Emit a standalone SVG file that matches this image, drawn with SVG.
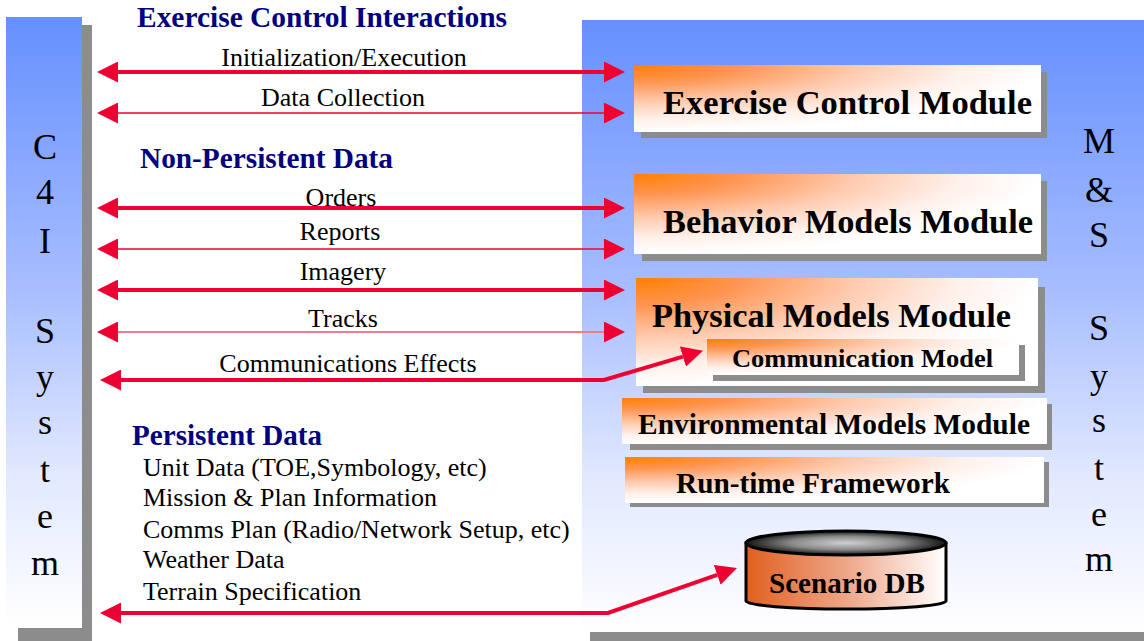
<svg xmlns="http://www.w3.org/2000/svg" width="1144" height="641" viewBox="0 0 1144 641">
<defs>
<linearGradient id="panel" x1="0" y1="0" x2="0" y2="1">
<stop offset="0" stop-color="#6690FF"/>
<stop offset="0.45" stop-color="#A8BEFF"/>
<stop offset="0.75" stop-color="#E2E9FF"/>
<stop offset="1" stop-color="#FFFFFF"/>
</linearGradient>
<radialGradient id="orange" cx="0" cy="0" r="1" fx="0" fy="0">
<stop offset="0" stop-color="#FF8000"/>
<stop offset="0.25" stop-color="#FF9450"/>
<stop offset="0.55" stop-color="#FFCBB0"/>
<stop offset="0.8" stop-color="#FFF0EA"/>
<stop offset="1" stop-color="#FFFFFF"/>
</radialGradient>
<linearGradient id="dbBody" x1="0" y1="0" x2="1" y2="0">
<stop offset="0" stop-color="#E06020"/>
<stop offset="0.5" stop-color="#EEA688"/>
<stop offset="1" stop-color="#FFFFFF"/>
</linearGradient>
<radialGradient id="dbTop" cx="0.5" cy="0.5" r="0.5">
<stop offset="0" stop-color="#D0D0D0"/>
<stop offset="0.55" stop-color="#8A8A8A"/>
<stop offset="1" stop-color="#151515"/>
</radialGradient>
<marker id="ah" markerUnits="userSpaceOnUse" markerWidth="21" markerHeight="21" viewBox="0 0 21 21" refX="0" refY="10.5" orient="auto-start-reverse">
<path d="M0,0 L21,10.5 L0,21 z" fill="#EE0033"/>
</marker>
<style>
text{font-family:"Liberation Serif","Times New Roman",Times,serif}
.lbl{font-size:26px;fill:#000}
.ttl{font-size:29px;font-weight:bold;fill:#000080}
.mod{font-weight:bold;fill:#000}
.side{font-size:36px;fill:#000;text-anchor:middle}
.shadow{fill:#8C8C8C}
.box{fill:url(#orange)}
.thick{stroke:#EE0033;stroke-width:4;fill:none;marker-start:url(#ah);marker-end:url(#ah)}
.thin{stroke:#EE0033;stroke-width:1.5;fill:none;marker-start:url(#ah);marker-end:url(#ah)}
.pale{stroke:#F07A8A;stroke-width:2;fill:none;marker-start:url(#ah);marker-end:url(#ah)}
</style>
</defs>
<rect width="1144" height="641" fill="#FFFFFF"/>

<g id="c4i-system">
<rect class="shadow" x="18" y="25" width="74" height="616"/>
<rect x="6" y="17" width="76" height="611" fill="url(#panel)"/>
<text class="side" x="45" y="159">C</text>
<text class="side" x="45" y="204">4</text>
<text class="side" x="45" y="253">I</text>
<text class="side" x="45" y="343">S</text>
<text class="side" x="45" y="389">y</text>
<text class="side" x="45" y="434">s</text>
<text class="side" x="45" y="482">t</text>
<text class="side" x="45" y="528">e</text>
<text class="side" x="45" y="575">m</text>
</g>

<g id="ms-system">
<rect class="shadow" x="590" y="630" width="554" height="11"/>
<rect x="582" y="20" width="562" height="612" fill="url(#panel)"/>
<text class="side" x="1099" y="153">M</text>
<text class="side" x="1099" y="202">&amp;</text>
<text class="side" x="1099" y="247">S</text>
<text class="side" x="1099" y="340">S</text>
<text class="side" x="1099" y="388">y</text>
<text class="side" x="1099" y="432">s</text>
<text class="side" x="1099" y="480">t</text>
<text class="side" x="1099" y="526">e</text>
<text class="side" x="1099" y="571">m</text>
</g>

<g id="section-titles">
<text class="ttl" x="137" y="27" textLength="370" lengthAdjust="spacingAndGlyphs">Exercise Control Interactions</text>
<text class="ttl" x="140" y="168" textLength="253" lengthAdjust="spacingAndGlyphs">Non-Persistent Data</text>
<text class="ttl" x="132" y="445" textLength="190" lengthAdjust="spacingAndGlyphs">Persistent Data</text>
</g>

<g id="exercise-control-module">
<rect class="shadow" x="641" y="72" width="406" height="66"/>
<rect class="box" x="634" y="65" width="407" height="67"/>
<text class="mod" x="663" y="114" font-size="34" textLength="369" lengthAdjust="spacingAndGlyphs">Exercise Control Module</text>
</g>

<g id="behavior-models-module">
<rect class="shadow" x="642" y="181" width="405" height="80"/>
<rect class="box" x="634" y="174" width="407" height="80"/>
<text class="mod" x="663" y="233" font-size="34" textLength="370" lengthAdjust="spacingAndGlyphs">Behavior Models Module</text>
</g>

<g id="physical-models-module">
<rect class="shadow" x="643" y="287" width="402" height="106"/>
<rect class="box" x="636" y="278" width="402" height="108"/>
<text class="mod" x="652" y="327" font-size="34" textLength="359" lengthAdjust="spacingAndGlyphs">Physical Models Module</text>
</g>

<g id="communication-model">
<rect class="shadow" x="713" y="345" width="312" height="36"/>
<rect class="box" x="707" y="339" width="312" height="36"/>
<text class="mod" x="732" y="367" font-size="26" textLength="261" lengthAdjust="spacingAndGlyphs">Communication Model</text>
</g>

<g id="environmental-models-module">
<rect class="shadow" x="630" y="404" width="422" height="46"/>
<rect class="box" x="622" y="398" width="425" height="46"/>
<text class="mod" x="638" y="434" font-size="29" textLength="392" lengthAdjust="spacingAndGlyphs">Environmental Models Module</text>
</g>

<g id="run-time-framework">
<rect class="shadow" x="630" y="462" width="419" height="45"/>
<rect class="box" x="625" y="457" width="419" height="46"/>
<text class="mod" x="676" y="493" font-size="29" textLength="274" lengthAdjust="spacingAndGlyphs">Run-time Framework</text>
</g>

<g id="scenario-db">
<path d="M746,543 V601 A100,8 0 0 0 946,601 V543 Z" fill="url(#dbBody)" stroke="#000" stroke-width="3"/>
<ellipse cx="846" cy="543" rx="100" ry="12" fill="url(#dbTop)" stroke="#000" stroke-width="3"/>
<text class="mod" x="769" y="593" font-size="29" textLength="156" lengthAdjust="spacingAndGlyphs">Scenario DB</text>
</g>

<g id="connectors">
<line class="thick" x1="118" y1="72" x2="604" y2="72"/>
<line class="thin" x1="118" y1="113" x2="604" y2="113"/>
<line class="thick" x1="118" y1="208" x2="604" y2="208"/>
<line class="thin" x1="118" y1="249" x2="604" y2="249"/>
<line class="thick" x1="118" y1="290" x2="604" y2="290"/>
<line class="pale" x1="118" y1="332" x2="604" y2="332"/>
<polyline class="thick" points="121,380 604,380 682.9,356.6"/>
<polyline class="thick" points="121,613 608,613 717.2,574.9"/>
</g>

<g id="connector-labels">
<text class="lbl" x="344" y="66" text-anchor="middle">Initialization/Execution</text>
<text class="lbl" x="343" y="106" text-anchor="middle">Data Collection</text>
<text class="lbl" x="341" y="206" text-anchor="middle">Orders</text>
<text class="lbl" x="340" y="240" text-anchor="middle">Reports</text>
<text class="lbl" x="343" y="280" text-anchor="middle">Imagery</text>
<text class="lbl" x="343" y="327" text-anchor="middle">Tracks</text>
<text class="lbl" x="348" y="372" text-anchor="middle">Communications Effects</text>
</g>

<g id="persistent-data-list">
<text class="lbl" x="143" y="476">Unit Data (TOE,Symbology, etc)</text>
<text class="lbl" x="143" y="506">Mission &amp; Plan Information</text>
<text class="lbl" x="143" y="538">Comms Plan (Radio/Network Setup, etc)</text>
<text class="lbl" x="143" y="568">Weather Data</text>
<text class="lbl" x="143" y="600">Terrain Specification</text>
</g>
</svg>
